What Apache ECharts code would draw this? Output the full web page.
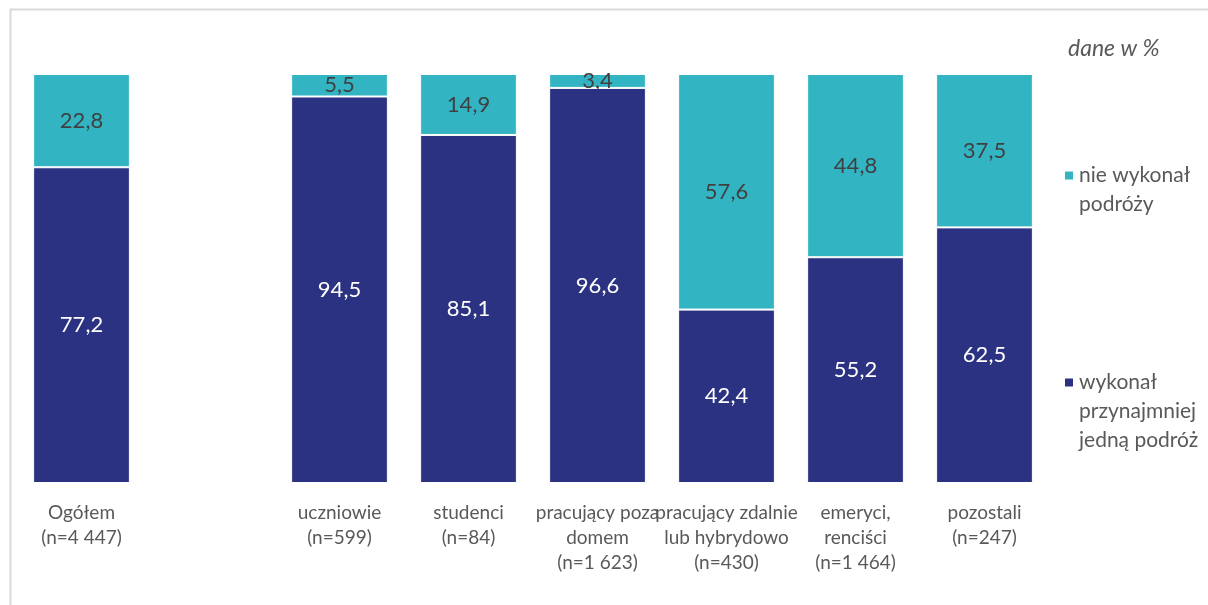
<!DOCTYPE html>
<html>
<head>
<meta charset="utf-8">
<script src="https://cdn.jsdelivr.net/npm/echarts@6/dist/echarts.min.js"></script>
<style>
  html, body { margin: 0; padding: 0; background: #fff; }
  #main { width: 1208px; height: 605px; }
</style>
</head>
<body>
<div id="main"></div>
<script>
// grupy (pusta kategoria robi odstęp po "Ogółem")
const categories = [
  'Ogółem\n(n=4 447)',
  '',
  'uczniowie\n(n=599)',
  'studenci\n(n=84)',
  'pracujący poza\ndomem\n(n=1 623)',
  'pracujący zdalnie\nlub hybrydowo\n(n=430)',
  'emeryci,\nrenciści\n(n=1 464)',
  'pozostali\n(n=247)'
];
const travelled = [77.2, null, 94.5, 85.1, 96.6, 42.4, 55.2, 62.5];
const notTravelled = [22.8, null, 5.5, 14.9, 3.4, 57.6, 44.8, 37.5];

const NAVY = '#2b3282';
const TEAL = '#33b4c3';
const FONT = 'Lato';

const chart = echarts.init(document.getElementById('main'));

const fmt = p => (p.value == null ? '' : p.value.toFixed(1).replace('.', ','));

// wspólne ustawienia legendy; puste linie na początku wyrównują znacznik do pierwszej linii tekstu
const legendBase = {
  left: 1058,
  orient: 'vertical',
  icon: 'rect',
  itemWidth: 10,
  itemHeight: 10,
  itemGap: 0,
  textStyle: { fontSize: 21, lineHeight: 29, color: '#595959', fontFamily: FONT }
};

const option = {
  animation: false,
  textStyle: { fontFamily: FONT },
  grid: { left: 17, right: 159, top: 74, bottom: 122 },
  xAxis: {
    type: 'category',
    data: categories,
    axisLine: { show: false },
    axisTick: { show: false },
    axisLabel: {
      interval: 0,
      margin: 17,
      fontSize: 19,
      lineHeight: 25,
      color: '#595959',
      fontFamily: FONT
    }
  },
  yAxis: { type: 'value', min: 0, max: 100, show: false },
  legend: [
    Object.assign({}, legendBase, {
      data: ['nie wykonał podróży'],
      top: 127,
      formatter: () => '\nnie wykonał\npodróży'
    }),
    Object.assign({}, legendBase, {
      data: ['wykonał przynajmniej jedną podróż'],
      top: 305,
      formatter: () => '\n\nwykonał\nprzynajmniej\njedną podróż'
    })
  ],
  graphic: [
    {
      type: 'rect',
      left: 8,
      top: 7,
      shape: { width: 1400, height: 800 },
      style: { fill: 'none', stroke: '#d9d9d9', lineWidth: 2 },
      silent: true
    },
    {
      type: 'text',
      left: 1068,
      top: 37,
      style: { text: 'dane w %', fontSize: 23, fontStyle: 'italic', fill: '#595959', fontFamily: FONT }
    }
  ],
  series: [
    {
      name: 'wykonał przynajmniej jedną podróż',
      type: 'bar',
      stack: 'all',
      barWidth: '75%',
      data: travelled,
      itemStyle: { color: NAVY, borderColor: '#fff', borderWidth: 1 },
      label: { show: true, position: 'inside', color: '#fff', fontSize: 22, formatter: fmt, fontFamily: FONT }
    },
    {
      name: 'nie wykonał podróży',
      type: 'bar',
      stack: 'all',
      barWidth: '75%',
      data: notTravelled,
      itemStyle: { color: TEAL, borderColor: '#fff', borderWidth: 1 },
      label: { show: true, position: 'inside', color: '#404040', fontSize: 22, formatter: fmt, fontFamily: FONT }
    }
  ]
};

chart.setOption(option);
</script>
</body>
</html>
